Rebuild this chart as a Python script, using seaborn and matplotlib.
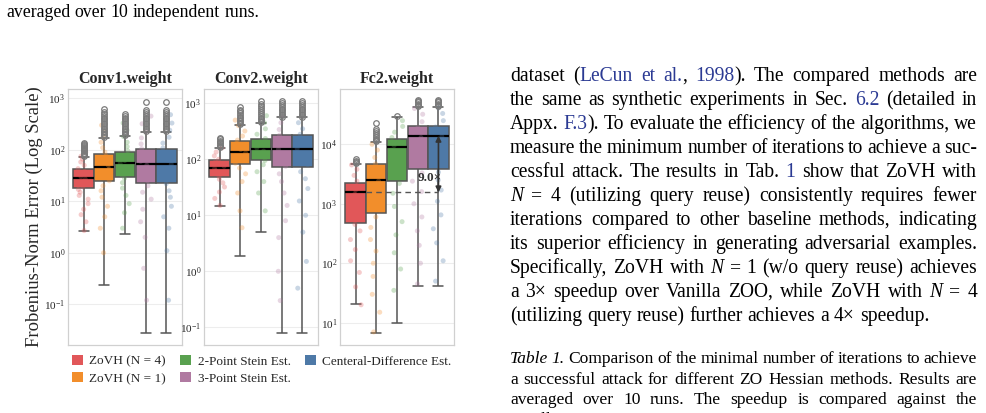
import numpy as np
import pandas as pd
import matplotlib
matplotlib.use("Agg")
import matplotlib.pyplot as plt
import seaborn as sns
from matplotlib.patches import Patch
from matplotlib.transforms import IdentityTransform
from matplotlib.ticker import LogLocator, NullLocator

# ---------------- data ----------------
methods = ["ZoVH (N = 4)", "ZoVH (N = 1)", "2-Point Stein Est.",
           "3-Point Stein Est.", "Centeral-Difference Est."]
colors = ["#e15759", "#f28e2b", "#59a14f", "#b07aa1", "#4e79a7"]
panels = ["Conv1.weight", "Conv2.weight", "Fc2.weight"]

# five-number summaries (whisker low, q1, median, q3, whisker high)
conv1_low = [2.65, 0.237, 2.3, 0.0273, 0.0273]
conv1_q1 = [18.4, 25, 30, 22.4, 22.4]
conv1_med = [28, 47, 55, 53, 53]
conv1_q3 = [41.8, 82, 89, 104, 104]
conv1_high = [73, 172, 185, 224, 224]

conv2_low = [14.7, 1.87, 5.1, 0.078, 0.078]
conv2_q1 = [49, 81.5, 97, 72, 72]
conv2_med = [69, 133, 155, 151, 151]
conv2_q3 = [97, 212, 230, 268, 268]
conv2_high = [161, 410, 440, 563, 563]

fc2_low = [20.5, 6.7, 9.8, 41.6, 41.6]
fc2_q1 = [470, 692, 2415, 3846, 3846]
fc2_med = [1550, 2512, 8900, 13950, 13950]
fc2_q3 = [2213, 4670, 12270, 20300, 20300]
fc2_high = [4610, 10800, 28400, 42800, 42800]

# outliers beyond the whiskers
conv1_fliers = [[76, 80, 84, 88, 93, 98, 103, 108, 114, 120, 126, 132, 137],
                [178, 190, 205, 220, 235, 250, 270, 290, 310, 335, 360, 390, 420, 455, 490, 540, 611],
                [192, 205, 220, 235, 250, 270, 290, 310, 335, 360, 390, 420, 450, 489],
                [232, 250, 268, 288, 310, 335, 360, 390, 420, 455, 490, 540, 593, 859],
                [232, 250, 268, 288, 310, 335, 360, 390, 420, 455, 490, 540, 593, 859]]
conv2_fliers = [[166, 174, 182, 192, 202, 214, 226, 237],
                [425, 450, 480, 510, 545, 580, 620, 665, 715, 770, 870],
                [455, 485, 520, 555, 595, 640, 690, 745, 810, 880, 960, 1110],
                [580, 615, 655, 700, 750, 805, 865, 930, 1010, 1110],
                [580, 615, 655, 700, 750, 805, 865, 930, 1010, 1110]]
fc2_fliers = [[4800, 5000, 5250, 5600],
              [11200, 11800, 12500, 13300, 14200, 15200, 16500, 18000, 22500],
              [29500],
              [44000, 46000, 48000, 50500, 53000, 55600],
              [44000, 46000, 48000, 50500, 53000, 55600]]

# individual run values (faint points)
conv1_points = [
    [2.7, 4, 5.5, 7, 9, 11, 13, 15, 17, 19, 21, 24, 27, 30, 34, 38, 43, 50, 58, 66, 75, 90],
    [1.0, 3, 5, 8, 12, 16, 20, 25, 30, 36, 42, 50, 58, 66, 76, 90, 110, 140, 180, 230, 300],
    [3, 6, 9, 13, 18, 23, 28, 33, 40, 47, 55, 62, 70, 80, 95, 115, 140, 180, 240, 330],
    [0.12, 0.5, 2, 4, 7, 11, 15, 20, 25, 32, 40, 50, 60, 72, 88, 105, 130, 170, 230, 320, 450],
    [0.12, 1.1, 3, 5, 8, 12, 16, 22, 28, 35, 43, 52, 62, 75, 90, 108, 135, 175, 240, 330, 480]]
conv2_points = [
    [15, 20, 26, 32, 38, 44, 50, 56, 62, 68, 75, 82, 90, 100, 115, 135, 160],
    [6, 12, 25, 40, 55, 70, 85, 100, 115, 130, 150, 170, 195, 220, 260, 320, 400, 500],
    [12, 25, 40, 60, 80, 95, 110, 125, 140, 160, 180, 205, 235, 280, 350, 450, 600],
    [0.3, 1, 4, 8, 15, 25, 40, 55, 75, 95, 120, 150, 180, 220, 270, 340, 450, 600],
    [0.5, 1.5, 5, 10, 18, 30, 45, 60, 80, 100, 125, 155, 185, 225, 280, 350, 450]]
fc2_points = [
    [20, 40, 70, 110, 170, 250, 350, 450, 550, 700, 850, 1000, 1200, 1450, 1700, 2000, 2400, 3000, 3800, 4500],
    [7, 15, 30, 60, 100, 160, 250, 400, 600, 800, 1100, 1500, 1900, 2400, 3000, 3800, 4700, 6000, 8000, 10000],
    [35, 80, 150, 300, 500, 900, 1500, 2200, 3000, 4000, 5200, 6500, 8000, 9500, 11000, 13000, 16000, 20000, 25000],
    [45, 100, 200, 350, 600, 1000, 1600, 2400, 3300, 4500, 6000, 8000, 10500, 13000, 16000, 19000, 24000, 32000, 40000],
    [50, 110, 220, 380, 650, 1100, 1700, 2500, 3400, 4700, 6200, 8300, 10800, 13500, 16500, 19500, 25000, 33000, 41000]]

ylims = [(10 ** -1.79, 10 ** 3.18), (10 ** -1.316, 10 ** 3.255), (10 ** 0.625, 10 ** 4.93)]

# ---------------- style ----------------
sns.set_style("whitegrid")
plt.rcParams["font.family"] = ["Liberation Serif", "DejaVu Serif"]
plt.rcParams["mathtext.fontset"] = "custom"
plt.rcParams["mathtext.rm"] = "Liberation Serif:bold"
plt.rcParams["mathtext.it"] = "Liberation Serif:italic:bold"
plt.rcParams["mathtext.bf"] = "Liberation Serif:bold"

W, H = 987, 413
fig = plt.figure(figsize=(W / 100, H / 100), dpi=100)
fig.patch.set_facecolor("white")

np.random.seed(3)

stats = [
    (conv1_low, conv1_q1, conv1_med, conv1_q3, conv1_high, conv1_fliers, conv1_points),
    (conv2_low, conv2_q1, conv2_med, conv2_q3, conv2_high, conv2_fliers, conv2_points),
    (fc2_low, fc2_q1, fc2_med, fc2_q3, fc2_high, fc2_fliers, fc2_points),
]
lefts = [68, 204, 340]
axw = 114
top, bot = 89, 345

axes = []
for p, (lo, q1, med, q3, hi, fl, pts) in enumerate(stats):
    ax = fig.add_axes([lefts[p] / W, 1 - bot / H, axw / W, (bot - top) / H])
    axes.append(ax)
    box_df = pd.DataFrame({
        "method": [m for m in methods for _ in range(5)],
        "value": [v for i in range(5) for v in (lo[i], q1[i], med[i], q3[i], hi[i])],
    })
    pt_df = pd.DataFrame({
        "method": [methods[i] for i in range(5) for _ in pts[i]],
        "value": [v for i in range(5) for v in pts[i]],
    })
    sns.stripplot(data=pt_df, x="method", y="value", hue="method", order=methods,
                  hue_order=methods, palette=colors, jitter=0.28, size=3.6,
                  alpha=0.3, linewidth=0, legend=False, ax=ax, log_scale=True)
    sns.boxplot(data=box_df, x="method", y="value", hue="method", order=methods,
                hue_order=methods, palette=colors, whis=np.inf, width=0.97,
                saturation=1, linecolor="#555555", linewidth=1.1,
                medianprops=dict(color="black", linewidth=1.6),
                showfliers=False, legend=False, ax=ax, log_scale=True)
    for i, vals in enumerate(fl):
        ax.plot([i] * len(vals), vals, "o", mfc="none", mec="#7a7a7a",
                ms=4, mew=0.9, zorder=3)
    ax.set_xlim(-0.75, 4.75)
    ax.set_ylim(*ylims[p])
    ax.set_xlabel("")
    ax.set_ylabel("")
    ax.set_xticks([])
    ax.yaxis.set_major_locator(LogLocator(base=10, numticks=12))
    ax.yaxis.set_minor_locator(NullLocator())
    ax.tick_params(axis="y", length=0, pad=2, labelsize=8)
    ax.grid(False)
    ax.yaxis.grid(True, color="#ededed", lw=0.8)
    for s in ax.spines.values():
        s.set_color("#d0d0d0")
        s.set_linewidth(0.9)
    ax.set_title(panels[p], fontweight="bold", fontsize=11.5, pad=4)

# speedup annotation on Fc2
ax = axes[2]
ax.plot([0.485, 4], [fc2_med[0], fc2_med[0]], ls=(0, (4, 3)), color="#555555", lw=1.0, zorder=4)
ax.annotate("", xy=(4, fc2_med[4]), xytext=(4, fc2_med[0]),
            arrowprops=dict(arrowstyle="<|-|>", color="#333333", lw=1.2,
                            mutation_scale=8, shrinkA=0, shrinkB=0), zorder=5)
ratio = fc2_med[4] / fc2_med[0]
ty = 10 ** (np.log10(fc2_med[0]) + 0.25 * (np.log10(fc2_med[4]) - np.log10(fc2_med[0])))
ax.text(3.0, ty, f"{ratio:.1f}×", fontsize=9.5, fontweight="bold", color="#333333",
        ha="left", va="center", zorder=6)

fig.text(34 / W, 1 - 217 / H, "Frobenius-Norm Error (Log Scale)", rotation=90,
         fontsize=13.4, ha="center", va="center")

handles = [Patch(facecolor=c, edgecolor="none", label=m) for c, m in zip(colors, methods)]
fig.legend(handles=handles, labels=methods, ncol=3, loc="upper left",
           bbox_to_anchor=(72 / W, 1 - 355 / H), frameon=False, fontsize=9.5,
           handlelength=0.8, handleheight=0.8, handletextpad=0.5,
           columnspacing=1.1, borderaxespad=0, borderpad=0, labelspacing=0.35)

# ---------------- page text ----------------
body_lines = [
    "dataset ([LeCun] [et] [al.], [1998]). The compared methods are",
    "the same as synthetic experiments in Sec. [6.2] (detailed in",
    "Appx. [F.3]). To evaluate the efficiency of the algorithms, we",
    "measure the minimum number of iterations to achieve a suc-",
    "cessful attack. The results in Tab. [1] show that ZoVH with",
    "{N} = 4 (utilizing query reuse) consistently requires fewer",
    "iterations compared to other baseline methods, indicating",
    "its superior efficiency in generating adversarial examples.",
    "Specifically, ZoVH with {N} = 1 (w/o query reuse) achieves",
    "a 3× speedup over Vanilla ZOO, while ZoVH with {N} = 4",
    "(utilizing query reuse) further achieves a 4× speedup.",
]
caption_lines = [
    "{Table} {1.} Comparison of the minimal number of iterations to achieve",
    "a successful attack for different ZO Hessian methods. Results are",
    "averaged over 10 runs.  The speedup is compared against the",
    "Vanilla ZOO.",
]

renderer = fig.canvas.get_renderer()
LINK = "#2b3a93"


def parse_word(word):
    segs, cur, mode = [], "", "n"
    for ch in word:
        if ch in "[{":
            if cur:
                segs.append((cur, mode))
            cur, mode = "", ("b" if ch == "[" else "i")
        elif ch in "]}":
            if cur:
                segs.append((cur, mode))
            cur, mode = "", "n"
        else:
            cur += ch
    if cur:
        segs.append((cur, mode))
    return segs


def draw_line(line, x0, x1, ybase, size, justify):
    words = [parse_word(w) for w in line.split()]
    arts, widths = [], []
    for w in words:
        wa, ww = [], 0
        for txt, mode in w:
            t = fig.text(0, 0, txt, fontsize=size, transform=IdentityTransform(),
                         color=LINK if mode == "b" else "black",
                         style="italic" if mode == "i" else "normal",
                         ha="left", va="baseline")
            wd = t.get_window_extent(renderer).width
            wa.append((t, wd))
            ww += wd
        arts.append(wa)
        widths.append(ww)
    t1 = fig.text(0, 0, "a a", fontsize=size, transform=IdentityTransform())
    t2 = fig.text(0, 0, "aa", fontsize=size, transform=IdentityTransform())
    space = t1.get_window_extent(renderer).width - t2.get_window_extent(renderer).width
    t1.remove(); t2.remove()
    if justify and len(words) > 1:
        gap = (x1 - x0 - sum(widths)) / (len(words) - 1)
    else:
        gap = space
    x = x0
    yd = H - ybase
    for wa, ww in zip(arts, widths):
        xx = x
        for t, wd in wa:
            t.set_position((xx, yd))
            xx += wd
        x += ww + gap


for k, line in enumerate(body_lines):
    draw_line(line, 510, 977, 81 + 24 * k, 14.1, k < len(body_lines) - 1)
for k, line in enumerate(caption_lines):
    draw_line(line, 510, 977, 363 + 20.5 * k, 12.6, k < len(caption_lines) - 1)
draw_line("averaged over 10 independent runs.", 6, 300, 17, 12.8, False)

fig.savefig("out.png", dpi=100)
